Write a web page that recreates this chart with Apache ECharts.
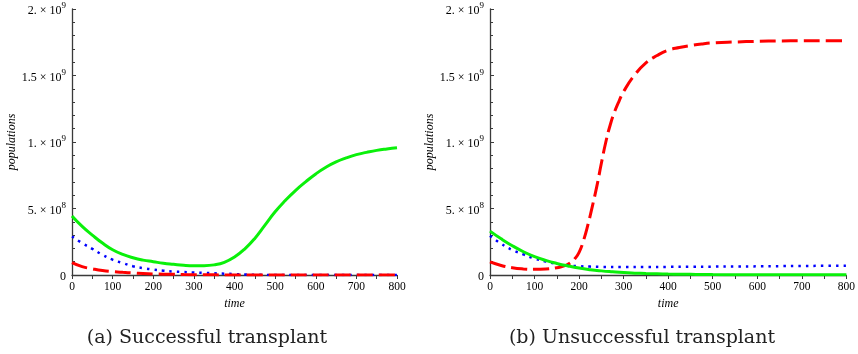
<!DOCTYPE html>
<html>
<head>
<meta charset="utf-8">
<script src="https://cdn.jsdelivr.net/npm/echarts@6/dist/echarts.min.js"></script>
<style>
  html, body { margin: 0; padding: 0; background: #fff; }
  #main { width: 858px; height: 354px; }
</style>
</head>
<body>
<div id="main"></div>
<script>
var chartDom = document.getElementById('main');
var myChart = echarts.init(chartDom);
var option;

// values in units of 1e8, [time, value]
let greenA = [[0,4.44],[25,3.65],[50,3.0],[75,2.4],[100,1.9],[125,1.55],[150,1.3],[175,1.12],[200,1.0],[225,0.88],[250,0.8],[275,0.73],[300,0.7],[325,0.7],[350,0.76],[375,0.95],[400,1.35],[425,1.95],[450,2.75],[475,3.75],[500,4.75],[525,5.6],[550,6.35],[575,7.0],[600,7.6],[625,8.1],[650,8.5],[675,8.8],[700,9.05],[725,9.22],[750,9.37],[775,9.48],[800,9.57]];
let blueA = [[0,2.9],[25,2.4],[50,1.97],[75,1.52],[100,1.15],[125,0.9],[150,0.66],[175,0.52],[200,0.41],[225,0.32],[250,0.26],[275,0.22],[300,0.19],[325,0.16],[350,0.13],[375,0.1],[400,0.07],[425,0.04],[450,0.02],[475,0.01],[500,0],[550,0],[600,0],[650,0],[700,0],[750,0],[800,0]];
let redA = [[0,0.93],[25,0.63],[50,0.47],[75,0.34],[100,0.26],[125,0.2],[150,0.15],[175,0.11],[200,0.08],[225,0.06],[250,0.05],[275,0.03],[300,0.02],[350,0.01],[400,0],[450,0],[500,0],[550,0],[600,0],[650,0],[700,0],[750,0],[800,0]];

let greenB = [[0,3.3],[25,2.72],[50,2.2],[75,1.75],[100,1.38],[125,1.1],[150,0.87],[175,0.68],[200,0.52],[225,0.4],[250,0.31],[275,0.24],[300,0.18],[325,0.14],[350,0.11],[375,0.09],[400,0.07],[425,0.06],[450,0.05],[475,0.04],[500,0.03],[550,0.02],[600,0.015],[650,0.01],[700,0.01],[750,0.01],[800,0.01]];
let blueB = [[0,2.95],[25,2.35],[50,1.88],[75,1.55],[100,1.24],[125,1.02],[150,0.84],[175,0.72],[200,0.66],[225,0.63],[250,0.61],[300,0.6],[350,0.6],[400,0.61],[450,0.62],[500,0.63],[550,0.64],[600,0.65],[650,0.665],[700,0.68],[750,0.69],[800,0.7]];
let redB = [[0,0.98],[25,0.72],[50,0.55],[75,0.46],[100,0.43],[125,0.45],[150,0.55],[160,0.62],[170,0.72],[180,0.9],[190,1.2],[200,1.7],[210,2.6],[220,3.8],[230,5.2],[240,6.7],[250,8.4],[260,10.0],[270,11.3],[280,12.3],[290,13.1],[300,13.8],[325,15.05],[350,15.95],[375,16.5],[400,16.9],[425,17.1],[450,17.25],[475,17.37],[500,17.45],[550,17.52],[600,17.57],[650,17.6],[700,17.61],[750,17.62],[800,17.62]];

let yTicks = {0:'0', 500000000:'5.|8', 1000000000:'1.|9', 1500000000:'1.5|9', 2000000000:'2.|9'};
let captions = ['(a) Successful transplant', '(b) Unsuccessful transplant'];

function scale(d) {
  return d.map(function (p) { return [p[0], p[1] * 1e8]; });
}

let font = 'Liberation Serif';
let capFont = 'DejaVu Serif';
let axisColor = '#3a3a3a';

function xAxis(i) {
  return {
    gridIndex: i, type: 'value', min: 0, max: 800, interval: 100,
    name: 'time', nameLocation: 'middle', nameGap: 19,
    nameTextStyle: { fontFamily: font, fontStyle: 'italic', fontSize: 12, color: '#000' },
    axisLine: { onZero: false, lineStyle: { color: axisColor, width: 1.3 } },
    axisTick: { show: true, inside: false, length: 4, lineStyle: { color: axisColor } },
    minorTick: { show: true, splitNumber: 2, length: 4, lineStyle: { color: axisColor } },
    axisLabel: { fontFamily: font, fontSize: 11.5, color: '#000', margin: 6, showMaxLabel: true },
    splitLine: { show: false }
  };
}

function yAxis(i) {
  return {
    gridIndex: i, type: 'value', min: 0, max: 2e9, interval: 5e8,
    name: 'populations', nameLocation: 'middle', nameGap: 47,
    nameTextStyle: { fontFamily: font, fontStyle: 'italic', fontSize: 12, color: '#000' },
    axisLine: { show: true, lineStyle: { color: axisColor, width: 1.3 } },
    axisTick: { show: true, inside: true, length: 4, lineStyle: { color: axisColor } },
    minorTick: { show: true, splitNumber: 5, length: 3, lineStyle: { color: axisColor } },
    splitLine: { show: false },
    axisLabel: {
      margin: 6, color: '#000', fontFamily: font, fontSize: 12,
      formatter: function (v) {
        let t = yTicks[v];
        if (t === undefined) return '';
        if (t === '0') return '{a|0}';
        let parts = t.split('|');
        return '{a|' + parts[0] + ' \u00d7 10}{s|' + parts[1] + '}';
      },
      rich: {
        a: { fontFamily: font, fontSize: 12, color: '#000', padding: [4, 0, 0, 0] },
        s: { fontFamily: font, fontSize: 9, color: '#000', padding: [0, 0, 6, 0] }
      }
    }
  };
}

function line(data, xi, color, type, width) {
  return {
    type: 'line', xAxisIndex: xi, yAxisIndex: xi, data: scale(data),
    smooth: 0.5, symbol: 'none', silent: true, animation: false,
    lineStyle: { color: color, width: width, type: type, cap: 'butt' }
  };
}

option = {
  animation: false,
  grid: [
    { left: 72, top: 9, width: 325, height: 266 },
    { left: 490, top: 9, width: 362, height: 266 }
  ],
  xAxis: [xAxis(0), xAxis(1)],
  yAxis: [yAxis(0), yAxis(1)],
  title: [
    { text: captions[0], left: 202, top: 324, textAlign: 'center',
      textStyle: { fontFamily: capFont, fontWeight: 'normal', fontSize: 19, color: '#222' } },
    { text: captions[1], left: 637, top: 324, textAlign: 'center',
      textStyle: { fontFamily: capFont, fontWeight: 'normal', fontSize: 19, color: '#222' } }
  ],
  series: [
    line(greenA, 0, '#0af00a', 'solid', 3),
    line(blueA, 0, '#0000ff', [2.5, 5], 2.5),
    line(redA, 0, '#ff0000', [16, 6], 3),
    line(redB, 1, '#ff0000', [16, 6], 3),
    line(blueB, 1, '#0000ff', [2.5, 5], 2.5),
    line(greenB, 1, '#0af00a', 'solid', 3)
  ]
};

option && myChart.setOption(option);
</script>
</body>
</html>
